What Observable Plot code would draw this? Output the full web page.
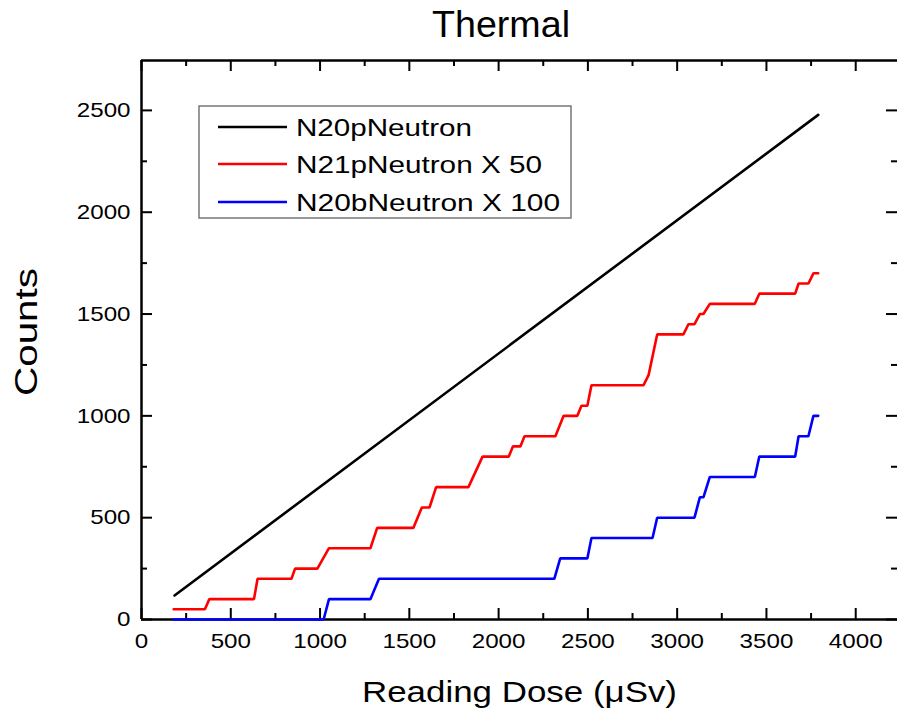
<!DOCTYPE html>
<html>
<head>
<meta charset="utf-8">
<script src="https://cdn.jsdelivr.net/npm/d3@7"></script>
<script src="https://cdn.jsdelivr.net/npm/@observablehq/plot@0.6"></script>
<style>
  html, body { margin: 0; padding: 0; background: white; overflow: hidden; }
  #chart { width: 897px; height: 715px; }
</style>
</head>
<body>
<div id="chart"></div>
<script>
// ---- Data ----
const titleText = "Thermal";
const xLabelText = "Reading Dose (\u03bcSv)";
const yLabelText = "Counts";

const seriesNames = ["N20pNeutron", "N21pNeutron X 50", "N20bNeutron X 100"];
const seriesColors = ["#000000", "#ff0000", "#0000ff"];

const n20pDose = [185, 3790];
const n20pCounts = [118, 2478];

const n21pDose = [180, 355, 380, 630, 650, 840, 860, 985, 1050, 1282, 1320, 1523, 1570, 1613, 1650, 1831, 1910, 2057, 2080, 2122, 2145, 2318, 2364, 2441, 2464, 2497, 2520, 2811, 2840, 2888, 3035, 3063, 3097, 3127, 3147, 3183, 3435, 3460, 3661, 3680, 3735, 3763, 3790];
const n21pCounts = [50, 50, 100, 100, 200, 200, 250, 250, 350, 350, 450, 450, 550, 550, 650, 650, 800, 800, 850, 850, 900, 900, 1000, 1000, 1050, 1050, 1150, 1150, 1200, 1400, 1400, 1450, 1450, 1500, 1500, 1550, 1550, 1600, 1600, 1650, 1650, 1700, 1700];

const n20bDose = [180, 1020, 1050, 1282, 1330, 2312, 2345, 2497, 2520, 2862, 2888, 3097, 3127, 3147, 3183, 3435, 3460, 3661, 3680, 3735, 3763, 3790];
const n20bCounts = [0, 0, 100, 100, 200, 200, 300, 300, 400, 400, 500, 500, 600, 600, 700, 700, 800, 800, 900, 900, 1000, 1000];

const xTicks = [0, 500, 1000, 1500, 2000, 2500, 3000, 3500, 4000];
const xMinorTicks = [250, 750, 1250, 1750, 2250, 2750, 3250, 3750];
const yTicks = [0, 500, 1000, 1500, 2000, 2500];
const yMinorTicks = [250, 750, 1250, 1750, 2250];
const xDomain = [0, 4234];
const yDomain = [0, 2745];

// ---- Build tables ----
const toRows = (dose, counts, name) => dose.map((d, i) => ({dose: d, count: counts[i], series: name}));
const rows = [
  ...toRows(n20pDose, n20pCounts, seriesNames[0]),
  ...toRows(n21pDose, n21pCounts, seriesNames[1]),
  ...toRows(n20bDose, n20bCounts, seriesNames[2])
];

// ---- Layout ----
const W = 897, H = 715;
const mL = 141, mT = 60, mB = 96, mR = 0;
const plotW = W - mL - mR, plotH = H - mT - mB;
const majorLen = 11, minorLen = 6;
const font = "'Liberation Sans', Arial, Helvetica, sans-serif";
const fmt = d => String(d);

const chart = Plot.plot({
  width: W,
  height: H,
  marginLeft: mL,
  marginTop: mT,
  marginBottom: mB,
  marginRight: mR,
  style: {fontFamily: font, fontSize: "21px", background: "white", color: "black", overflow: "visible"},
  x: {domain: xDomain},
  y: {domain: yDomain},
  color: {domain: seriesNames, range: seriesColors},
  marks: [
    // frame lines (left, bottom, top)
    Plot.ruleX([xDomain[0]], {stroke: "black", strokeWidth: 2.5}),
    Plot.ruleY([yDomain[0]], {stroke: "black", strokeWidth: 2.5}),
    Plot.ruleY([yDomain[1]], {stroke: "black", strokeWidth: 2.5}),
    // inward ticks: bottom
    Plot.tickX(xTicks, {x: d => d, insetTop: plotH - majorLen, stroke: "black", strokeWidth: 2}),
    Plot.tickX(xMinorTicks, {x: d => d, insetTop: plotH - minorLen, stroke: "black", strokeWidth: 2}),
    // top
    Plot.tickX(xTicks, {x: d => d, insetBottom: plotH - majorLen, stroke: "black", strokeWidth: 2}),
    Plot.tickX(xMinorTicks, {x: d => d, insetBottom: plotH - minorLen, stroke: "black", strokeWidth: 2}),
    // left
    Plot.tickY(yTicks, {y: d => d, insetRight: plotW - majorLen, stroke: "black", strokeWidth: 2}),
    Plot.tickY(yMinorTicks, {y: d => d, insetRight: plotW - minorLen, stroke: "black", strokeWidth: 2}),
    // right
    Plot.tickY(yTicks, {y: d => d, insetLeft: plotW - majorLen, stroke: "black", strokeWidth: 2}),
    Plot.tickY(yMinorTicks, {y: d => d, insetLeft: plotW - minorLen, stroke: "black", strokeWidth: 2}),
    // tick labels
    Plot.axisX(xTicks, {tickSize: 0, tickPadding: 14, fontSize: 21, label: null, fill: "black", tickFormat: fmt}),
    Plot.axisY(yTicks, {tickSize: 0, tickPadding: 11, fontSize: 21, label: null, fill: "black", tickFormat: fmt}),
    // data lines
    Plot.line(rows, {x: "dose", y: "count", z: "series", stroke: "series", strokeWidth: 2.6, strokeLinejoin: "miter"})
  ]
});

document.getElementById("chart").appendChild(chart);

const svg = d3.select(chart);

// widen tick labels slightly (reference glyphs are horizontally stretched)
svg.selectAll("g[aria-label='x-axis tick label'] text, g[aria-label='y-axis tick label'] text").each(function() {
  const len = this.getComputedTextLength();
  d3.select(this).attr("textLength", len * 1.15).attr("lengthAdjust", "spacingAndGlyphs");
});

// ---- Titles and legend (inside the SVG) ----
svg.append("text")
  .attr("x", 501).attr("y", 37)
  .attr("text-anchor", "middle")
  .attr("font-family", font).attr("font-size", 36)
  .attr("textLength", 138).attr("lengthAdjust", "spacingAndGlyphs")
  .attr("fill", "black")
  .text(titleText);

svg.append("text")
  .attr("x", 519.5).attr("y", 702)
  .attr("text-anchor", "middle")
  .attr("font-family", font).attr("font-size", 30)
  .attr("textLength", 315).attr("lengthAdjust", "spacingAndGlyphs")
  .attr("fill", "black")
  .text(xLabelText);

svg.append("text")
  .attr("transform", "translate(37,332) rotate(-90)")
  .attr("text-anchor", "middle")
  .attr("font-family", font).attr("font-size", 32)
  .attr("textLength", 128).attr("lengthAdjust", "spacingAndGlyphs")
  .attr("fill", "black")
  .text(yLabelText);

// legend
const lg = svg.append("g").attr("text-anchor", "start");
lg.append("rect")
  .attr("x", 199).attr("y", 106).attr("width", 372).attr("height", 112)
  .attr("fill", "white").attr("stroke", "#777").attr("stroke-width", 1.5);
const legendRowsY = [127, 164, 202];
const legendWidths = [176, 246, 264];
seriesNames.forEach((name, i) => {
  lg.append("line")
    .attr("x1", 218).attr("x2", 287)
    .attr("y1", legendRowsY[i]).attr("y2", legendRowsY[i])
    .attr("stroke", seriesColors[i]).attr("stroke-width", 2.6);
  lg.append("text")
    .attr("x", 296).attr("y", legendRowsY[i] + 8.5)
    .attr("text-anchor", "start")
    .attr("font-family", font).attr("font-size", 24)
    .attr("textLength", legendWidths[i]).attr("lengthAdjust", "spacingAndGlyphs")
    .attr("fill", "black")
    .text(name);
});
</script>
</body>
</html>
